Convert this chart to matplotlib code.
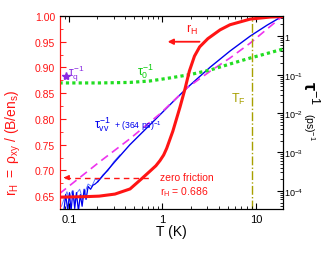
"""
Hall ratio r_H and scattering rates vs temperature (twin axis, log T).
"""
import math
import matplotlib
matplotlib.use("Agg")
import matplotlib.pyplot as plt
from matplotlib.ticker import FuncFormatter, LogLocator, MultipleLocator, NullFormatter

plt.rcParams['font.family'] = ['Liberation Sans', 'DejaVu Sans']
plt.rcParams['mathtext.fontset'] = 'custom'
plt.rcParams['mathtext.rm'] = 'Liberation Sans'
plt.rcParams['mathtext.it'] = 'Liberation Sans'
plt.rcParams['mathtext.bf'] = 'Liberation Sans:bold'

# ==============================
# DATA
# ==============================
# Hall ratio r_H (left axis)
T_RH = [0.08, 0.15, 0.21, 0.31, 0.45, 0.60, 0.73, 0.85, 0.94, 1.03, 1.11, 1.29,
        1.54, 1.74, 1.94, 2.2, 2.5, 3.06, 4.13, 5.28, 8.7, 14.3, 19.5]
RH = [0.648, 0.649, 0.650, 0.654, 0.664, 0.684, 0.698, 0.709, 0.719, 0.730, 0.743, 0.776,
      0.823, 0.858, 0.893, 0.922, 0.940, 0.956, 0.973, 0.983, 0.994, 0.998, 0.999]

# tau_vv^-1 + (364 ps)^-1 (right axis), smooth part
T_VV = [0.203, 0.309, 0.447, 0.83, 1.29, 1.83, 2.54, 3.26, 5.28, 8.7, 13.2, 19.3]
RATE_VV = [1.73e-4, 5.66e-4, 1.55e-3, 6.84e-3, 0.0199, 0.0457, 0.0931, 0.159,
           0.41, 1.0, 1.92, 3.28]
# noisy low-T part, dark trace
T_VV_NOISE = [0.088, 0.092, 0.097, 0.101, 0.105, 0.110, 0.115, 0.120, 0.126,
              0.132, 0.138, 0.145, 0.152, 0.160, 0.170, 0.180, 0.190, 0.203]
RATE_VV_NOISE = [3e-5, 8e-5, 3e-5, 9e-5, 3e-5, 1.0e-4, 3.5e-5, 9e-5, 3e-5,
                 8e-5, 4e-5, 1.1e-4, 6e-5, 1.3e-4, 1.1e-4, 1.4e-4, 1.5e-4, 1.73e-4]
# noisy low-T part, light trace
T_VV_LIGHT = [0.083, 0.09, 0.095, 0.1, 0.108, 0.115, 0.122, 0.13, 0.14, 0.15,
              0.16, 0.175, 0.19, 0.21, 0.23, 0.26, 0.3, 0.35]
RATE_VV_LIGHT = [4e-5, 7e-5, 9.5e-5, 6e-5, 1.0e-4, 5e-5, 9e-5, 1.1e-4, 6e-5,
                 1.0e-4, 1.5e-4, 1.3e-4, 2.0e-4, 1.9e-4, 2.6e-4, 3.3e-4, 5.6e-4, 8.5e-4]

# power-law guide (magenta dashed)
T_FIT = [0.079, 0.213, 0.447, 0.939, 1.83, 3.26, 5.28, 8.7, 19.3]
RATE_FIT = [8.47e-5, 5.66e-4, 2.21e-3, 9.77e-3, 0.0457, 0.125, 0.271, 0.66, 3.28]

# tau_0^-1 (green dotted)
T_0 = [0.079, 0.213, 0.447, 0.731, 1.2, 1.97, 3.26, 5.28, 8.7, 14.3, 19.5]
RATE_0 = [0.0615, 0.0615, 0.0634, 0.069, 0.0828, 0.101, 0.133, 0.19, 0.271, 0.375, 0.462]

# tau_q^-1 point
T_Q = [0.092]
RATE_Q = [0.093]

T_FERMI = 9.0
RH_ZERO_FRICTION = 0.686

RED = '#ff1414'
BLUE = '#0000ee'
LIGHT_BLUE = '#5f7dff'
GREEN = '#22dd22'
MAGENTA = '#ee33ee'
OLIVE = '#a8a000'
PURPLE = '#8a2be2'


def rate_label(v, pos):
    if abs(v - 1) < 1e-9:
        return '1'
    return r'$10^{%d}$' % round(math.log10(v))


def plot_chart():
    fig = plt.figure(figsize=(3.3, 2.55), dpi=100)
    ax = fig.add_axes([60 / 330, 1 - 210 / 255, 223 / 330, 193 / 255])
    ax2 = ax.twinx()
    ax.set_zorder(ax2.get_zorder() + 1)
    ax.patch.set_visible(False)

    ax.set_xscale('log')
    ax.set_xlim(0.08, 19.5)
    ax.set_ylim(0.625, 1.0)
    ax2.set_yscale('log')
    ax2.set_ylim(3.4e-5, 3.3)

    # right-axis curves
    ax2.plot(T_VV_LIGHT, RATE_VV_LIGHT, color=LIGHT_BLUE, lw=0.7)
    ax2.plot(T_VV_NOISE, RATE_VV_NOISE, color=BLUE, lw=0.9)
    ax2.plot(T_VV, RATE_VV, color=BLUE, lw=1.0)
    ax2.plot(T_FIT, RATE_FIT, color=MAGENTA, lw=1.2, ls=(0, (5, 3)))
    ax2.plot(T_0, RATE_0, color=GREEN, lw=2.3, ls=(0, (1, 1)))
    ax2.plot(T_Q, RATE_Q, marker='*', color=PURPLE, ms=6, ls='none')
    ax2.axvline(T_FERMI, color=OLIVE, lw=1.0, ls='-.')

    # left-axis curve
    ax.plot(T_RH, RH, color=RED, lw=2.2)
    ax.plot([0.09, 0.77], [RH_ZERO_FRICTION] * 2, color=RED, lw=1.0, ls=(0, (4, 3)))
    ax.annotate('', xy=(0.082, RH_ZERO_FRICTION), xytext=(0.1, RH_ZERO_FRICTION),
                arrowprops=dict(arrowstyle='-|>', color=RED, lw=1.0, mutation_scale=7))
    ax.annotate('', xy=(1.06, 0.950), xytext=(2.67, 0.950),
                arrowprops=dict(arrowstyle='-|>', color=RED, lw=1.3, mutation_scale=8))

    # texts
    ax.text(2.05, 0.962, r'$r_H$', color=RED, fontsize=9, ha='center', va='bottom')
    ax.text(0.94, 0.687, 'zero friction', color=RED, fontsize=7.5, va='center')
    ax.text(0.94, 0.659, r'$r_H$ = 0.686', color=RED, fontsize=7.5, va='center')
    ax.text(6.5, 0.839, r'$T_F$', color=OLIVE, fontsize=9, ha='center', va='center')
    ax.text(0.54, 0.893, r'$\tau_0^{-1}$', color='#11cc11', fontsize=9, va='center')
    ax.text(0.097, 0.890, r'$\tau_q^{-1}$', color=PURPLE, fontsize=8.5, va='center')
    ax.text(0.186, 0.790, r'$\tau_{vv}^{-1}$', color=BLUE, fontsize=9, va='center')
    ax.text(0.30, 0.788, r'+ (364 ps)$^{-1}$', color=BLUE, fontsize=6.2, va='center')

    # axes styling
    ax.spines['left'].set_color(RED)
    ax2.spines['left'].set_color(RED)
    ax.tick_params(axis='y', which='both', colors=RED, direction='in', labelsize=7.5)
    ax.tick_params(axis='y', which='major', length=4)
    ax.tick_params(axis='y', which='minor', length=2)
    ax.yaxis.set_major_locator(MultipleLocator(0.05))
    ax.yaxis.set_minor_locator(MultipleLocator(0.025))
    ax.yaxis.set_major_formatter(FuncFormatter(lambda v, p: f'{v:.2f}'))

    ax.tick_params(axis='x', which='both', direction='in', top=True, labelsize=8)
    ax.tick_params(axis='x', which='major', length=4)
    ax.tick_params(axis='x', which='minor', length=2)
    ax.xaxis.set_major_formatter(FuncFormatter(lambda v, p: f'{v:g}'))
    ax.xaxis.set_minor_formatter(NullFormatter())

    ax2.yaxis.set_major_locator(LogLocator(base=10, numticks=12))
    ax2.yaxis.set_minor_locator(LogLocator(base=10, subs=range(2, 10), numticks=12))
    ax2.yaxis.set_major_formatter(FuncFormatter(rate_label))
    ax2.yaxis.set_minor_formatter(NullFormatter())
    ax2.tick_params(axis='y', which='both', direction='in', labelsize=6.5, pad=1)
    ax2.tick_params(axis='y', which='major', length=4)
    ax2.tick_params(axis='y', which='minor', length=2)

    ax.set_xlabel('T (K)', fontsize=10, labelpad=0)
    ax.set_ylabel(r'$r_H\ =\ \rho_{xy}\ /\ (B/en_s)$', color=RED, fontsize=10)
    ax.yaxis.set_label_coords(-0.165, 0.35)

    fig.text(309 / 330, 1 - 93 / 255, r'$\mathbf{\tau}^{-1}$', fontsize=13,
             rotation=270, ha='center', va='center')
    fig.text(309 / 330, 1 - 127 / 255, r'(ps)$^{-1}$', fontsize=7.5,
             rotation=270, ha='center', va='center')

    fig.savefig('out.png', dpi=100)


if __name__ == "__main__":
    plot_chart()
